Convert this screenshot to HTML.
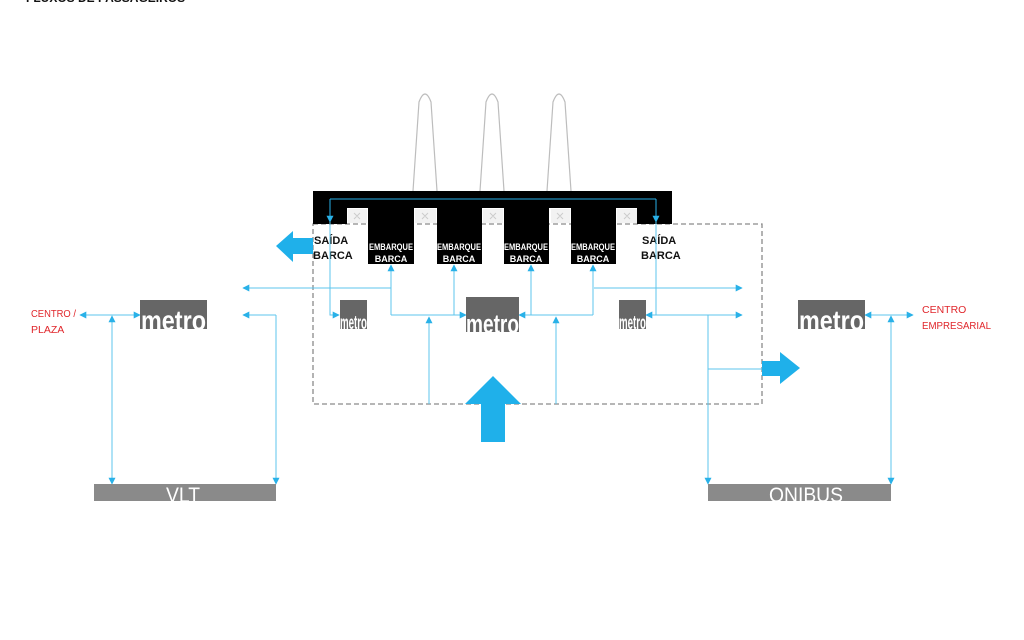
<!DOCTYPE html>
<html><head><meta charset="utf-8"><style>
html,body{margin:0;padding:0;background:#fff;}
svg{display:block;}
text{font-family:"Liberation Sans",sans-serif;}
</style></head><body>
<svg width="1024" height="640" viewBox="0 0 1024 640" xmlns="http://www.w3.org/2000/svg">
<defs>
<marker id="a" viewBox="0 0 10 10" refX="9" refY="5" markerWidth="7" markerHeight="7" orient="auto-start-reverse" markerUnits="userSpaceOnUse"><path d="M0,0 L10,5 L0,10 z" fill="#29b1e8"/></marker>
</defs>
<text x="26" y="2" font-size="12" font-weight="bold" fill="#111">FLUXOS DE PASSAGEIROS</text>

<g fill="none" stroke="#bdbdbd" stroke-width="1.2">
<path d="M413,191 L419,102 Q425,86 431,102 L437,191"/>
<path d="M480,191 L486,102 Q492,86 498,102 L504,191"/>
<path d="M547,191 L553,102 Q559,86 565,102 L571,191"/>
</g>

<rect x="313" y="224" width="449" height="180" fill="none" stroke="#8a8a8a" stroke-width="1.3" stroke-dasharray="5,3"/>

<rect x="313" y="191" width="359" height="17" fill="#000"/>
<rect x="313" y="208" width="34" height="16" fill="#000"/>
<rect x="637" y="208" width="35" height="16" fill="#000"/>
<g fill="#000">
<rect x="368" y="208" width="46" height="56"/>
<rect x="437" y="208" width="45" height="56"/>
<rect x="504" y="208" width="45" height="56"/>
<rect x="571" y="208" width="45" height="56"/>
</g>
<g fill="#f2f2f2">
<rect x="348" y="209" width="19" height="14"/>
<rect x="415" y="209" width="21" height="14"/>
<rect x="483" y="209" width="20" height="14"/>
<rect x="551" y="209" width="19" height="14"/>
<rect x="617" y="209" width="20" height="14"/>
</g>
<g stroke="#ccc" stroke-width="1">
<path d="M354,213 l6,6 M360,213 l-6,6 M422,213 l6,6 M428,213 l-6,6 M490,213 l6,6 M496,213 l-6,6 M557,213 l6,6 M563,213 l-6,6 M624,213 l6,6 M630,213 l-6,6"/>
</g>
<g fill="#fff" font-size="9" font-weight="bold" text-anchor="middle">
<text x="391" y="250" textLength="44" lengthAdjust="spacingAndGlyphs">EMBARQUE</text><text x="391" y="262">BARCA</text>
<text x="459" y="250" textLength="44" lengthAdjust="spacingAndGlyphs">EMBARQUE</text><text x="459" y="262">BARCA</text>
<text x="526" y="250" textLength="44" lengthAdjust="spacingAndGlyphs">EMBARQUE</text><text x="526" y="262">BARCA</text>
<text x="593" y="250" textLength="44" lengthAdjust="spacingAndGlyphs">EMBARQUE</text><text x="593" y="262">BARCA</text>
</g>
<g fill="#111" font-size="11" font-weight="bold">
<text x="314" y="244">SAÍDA</text><text x="313" y="259">BARCA</text>
<text x="642" y="244">SAÍDA</text><text x="641" y="259">BARCA</text>
</g>

<g fill="none" stroke="#5cc6ec" stroke-width="1">
<path d="M330,199 H656" stroke="#29b1e8"/>
<path d="M330,199 V222" stroke="#29b1e8" marker-end="url(#a)"/>
<path d="M656,199 V222" stroke="#29b1e8" marker-end="url(#a)"/>
<path d="M391,288 H243" marker-end="url(#a)"/>
<path d="M594,288 H742" marker-end="url(#a)"/>
<path d="M276,315 H243" marker-end="url(#a)"/>
<path d="M276,315 V484" marker-end="url(#a)"/>
<path d="M330,222 V315 H339" marker-end="url(#a)"/>
<path d="M391,315 V265" marker-end="url(#a)"/>
<path d="M454,315 V265" marker-end="url(#a)"/>
<path d="M391,315 H466" marker-end="url(#a)"/>
<path d="M593,315 H519" marker-end="url(#a)"/>
<path d="M531,315 V265" marker-end="url(#a)"/>
<path d="M593,315 V265" marker-end="url(#a)"/>
<path d="M429,404 V317" marker-end="url(#a)"/>
<path d="M556,404 V317" marker-end="url(#a)"/>
<path d="M656,222 V315 H646" marker-end="url(#a)"/>
<path d="M656,315 H742" marker-end="url(#a)"/>
<path d="M708,315 V484" marker-end="url(#a)"/>
<path d="M708,369 H762"/>
<path d="M112,315 H80" marker-end="url(#a)"/>
<path d="M112,315 H140" marker-end="url(#a)"/>
<path d="M112,400 V316" marker-end="url(#a)"/>
<path d="M112,400 V484" marker-end="url(#a)"/>
<path d="M891,315 H865" marker-end="url(#a)"/>
<path d="M891,315 H913" marker-end="url(#a)"/>
<path d="M891,400 V316" marker-end="url(#a)"/>
<path d="M891,400 V484" marker-end="url(#a)"/>
</g>

<g fill="#1fb0ea">
<path d="M276,246 L293,231 L293,238 L313,238 L313,254 L293,254 L293,262 z"/>
<path d="M762,361 L780,361 L780,352 L800,368 L780,384 L780,376 L762,376 z"/>
<path d="M493,376 L521,404 L505,404 L505,442 L481,442 L481,404 L465,404 z"/>
</g>

<g fill="#666">
<rect x="140" y="300" width="67" height="29"/>
<rect x="340" y="300" width="27" height="29"/>
<rect x="466" y="297" width="53" height="35"/>
<rect x="619" y="300" width="27" height="29"/>
<rect x="798" y="300" width="67" height="29"/>
</g>
<g fill="#fff" font-weight="bold">
<text x="141" y="330" font-size="28" textLength="65" lengthAdjust="spacingAndGlyphs">metro</text>
<text x="340" y="329" font-size="19" textLength="27" lengthAdjust="spacingAndGlyphs">metro</text>
<text x="466" y="333" font-size="27" textLength="53" lengthAdjust="spacingAndGlyphs">metro</text>
<text x="619" y="329" font-size="19" textLength="27" lengthAdjust="spacingAndGlyphs">metro</text>
<text x="799" y="330" font-size="28" textLength="65" lengthAdjust="spacingAndGlyphs">metro</text>
</g>

<rect x="94" y="484" width="182" height="17" fill="#8a8a8a"/>
<rect x="708" y="484" width="183" height="17" fill="#8a8a8a"/>
<text x="183" y="502" font-size="21" fill="#fff" text-anchor="middle" textLength="34" lengthAdjust="spacingAndGlyphs">VLT</text>
<text x="806" y="502" font-size="21" fill="#fff" text-anchor="middle" textLength="74" lengthAdjust="spacingAndGlyphs">ONIBUS</text>

<g fill="#e0262b" font-size="10.5">
<text x="31" y="317" textLength="45" lengthAdjust="spacingAndGlyphs">CENTRO /</text><text x="31" y="333">PLAZA</text>
<text x="922" y="313">CENTRO</text><text x="922" y="329" textLength="69" lengthAdjust="spacingAndGlyphs">EMPRESARIAL</text>
</g>
</svg>
</body></html>
